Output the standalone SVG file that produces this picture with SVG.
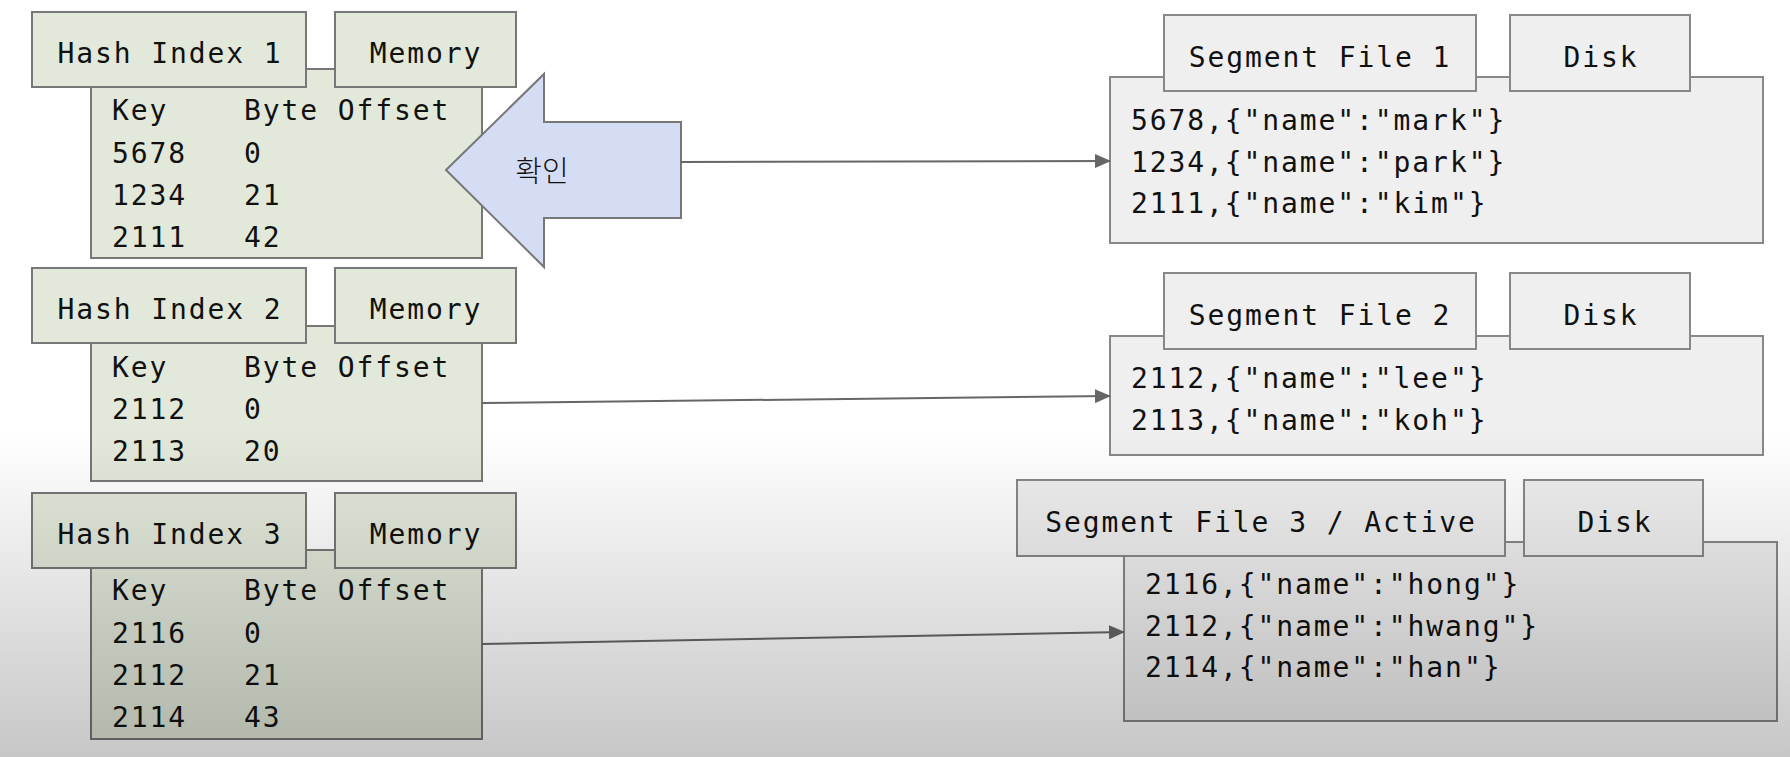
<svg xmlns="http://www.w3.org/2000/svg" width="1790" height="757" viewBox="0 0 1790 757">
<defs>
<style>
.t{font-family:"DejaVu Sans Mono","Liberation Mono",monospace;font-size:28px;letter-spacing:1.9px;fill:#111}
.c{text-anchor:middle}
.g{fill:#e2e9da;stroke:#777;stroke-width:2}
.s{fill:#efefef;stroke:#888;stroke-width:2}
.ln{stroke:#666;stroke-width:2;fill:none}
</style>
<marker id="ah" markerUnits="userSpaceOnUse" markerWidth="16" markerHeight="14" refX="15" refY="7" orient="auto">
<path d="M0,0 L16,7 L0,14 z" fill="#666"/>
</marker>
<linearGradient id="shade" x1="0" y1="0" x2="0" y2="1">
<stop offset="0" stop-color="#000" stop-opacity="0"/>
<stop offset="1" stop-color="#000" stop-opacity="0.22"/>
</linearGradient>
</defs>
<rect x="0" y="0" width="1790" height="757" fill="#fff"/>

<g id="hash1">
<rect class="g" x="91" y="69" width="391" height="189"/>
<rect class="g" x="32" y="12" width="274" height="75"/>
<rect class="g" x="335" y="12" width="181" height="75"/>
<text class="t c" x="170" y="63">Hash Index 1</text>
<text class="t c" x="426" y="63">Memory</text>
<text class="t" x="112" y="120">Key</text><text class="t" x="244" y="120">Byte Offset</text>
<text class="t" x="112" y="163">5678</text><text class="t" x="244" y="163">0</text>
<text class="t" x="112" y="205">1234</text><text class="t" x="244" y="205">21</text>
<text class="t" x="112" y="247">2111</text><text class="t" x="244" y="247">42</text>
</g>

<g id="hash2">
<rect class="g" x="91" y="326" width="391" height="155"/>
<rect class="g" x="32" y="268" width="274" height="75"/>
<rect class="g" x="335" y="268" width="181" height="75"/>
<text class="t c" x="170" y="319">Hash Index 2</text>
<text class="t c" x="426" y="319">Memory</text>
<text class="t" x="112" y="377">Key</text><text class="t" x="244" y="377">Byte Offset</text>
<text class="t" x="112" y="419">2112</text><text class="t" x="244" y="419">0</text>
<text class="t" x="112" y="461">2113</text><text class="t" x="244" y="461">20</text>
</g>

<g id="hash3">
<rect class="g" x="91" y="550" width="391" height="189"/>
<rect class="g" x="32" y="493" width="274" height="75"/>
<rect class="g" x="335" y="493" width="181" height="75"/>
<text class="t c" x="170" y="544">Hash Index 3</text>
<text class="t c" x="426" y="544">Memory</text>
<text class="t" x="112" y="600">Key</text><text class="t" x="244" y="600">Byte Offset</text>
<text class="t" x="112" y="643">2116</text><text class="t" x="244" y="643">0</text>
<text class="t" x="112" y="685">2112</text><text class="t" x="244" y="685">21</text>
<text class="t" x="112" y="727">2114</text><text class="t" x="244" y="727">43</text>
</g>

<g id="check-arrow">
<polygon points="446,170 544,74 544,122 681,122 681,218 544,218 544,267" fill="#d5ddf5" stroke="#777" stroke-width="2"/>
<text x="542" y="182" font-family="'Noto Sans CJK KR',sans-serif" font-size="29" font-weight="300" text-anchor="middle" fill="#111">확인</text>
</g>

<g id="seg1">
<rect class="s" x="1110" y="77" width="653" height="166"/>
<rect class="s" x="1164" y="15" width="312" height="76"/>
<rect class="s" x="1510" y="15" width="180" height="76"/>
<text class="t c" x="1320" y="67">Segment File 1</text>
<text class="t c" x="1601" y="67">Disk</text>
<text class="t" x="1131" y="130">5678,{"name":"mark"}</text>
<text class="t" x="1131" y="172">1234,{"name":"park"}</text>
<text class="t" x="1131" y="213">2111,{"name":"kim"}</text>
</g>

<g id="seg2">
<rect class="s" x="1110" y="336" width="653" height="119"/>
<rect class="s" x="1164" y="273" width="312" height="76"/>
<rect class="s" x="1510" y="273" width="180" height="76"/>
<text class="t c" x="1320" y="325">Segment File 2</text>
<text class="t c" x="1601" y="325">Disk</text>
<text class="t" x="1131" y="388">2112,{"name":"lee"}</text>
<text class="t" x="1131" y="430">2113,{"name":"koh"}</text>
</g>

<g id="seg3">
<rect class="s" x="1124" y="542" width="653" height="179"/>
<rect class="s" x="1017" y="480" width="488" height="76"/>
<rect class="s" x="1524" y="480" width="179" height="76"/>
<text class="t c" x="1261" y="532">Segment File 3 / Active</text>
<text class="t c" x="1615" y="532">Disk</text>
<text class="t" x="1145" y="594">2116,{"name":"hong"}</text>
<text class="t" x="1145" y="636">2112,{"name":"hwang"}</text>
<text class="t" x="1145" y="677">2114,{"name":"han"}</text>
</g>

<g id="connectors">
<line class="ln" x1="681" y1="162" x2="1110" y2="161" marker-end="url(#ah)"/>
<line class="ln" x1="482" y1="403" x2="1110" y2="396" marker-end="url(#ah)"/>
<line class="ln" x1="482" y1="644" x2="1124" y2="632" marker-end="url(#ah)"/>
</g>

<rect x="0" y="430" width="1790" height="327" fill="url(#shade)" pointer-events="none"/>
</svg>
